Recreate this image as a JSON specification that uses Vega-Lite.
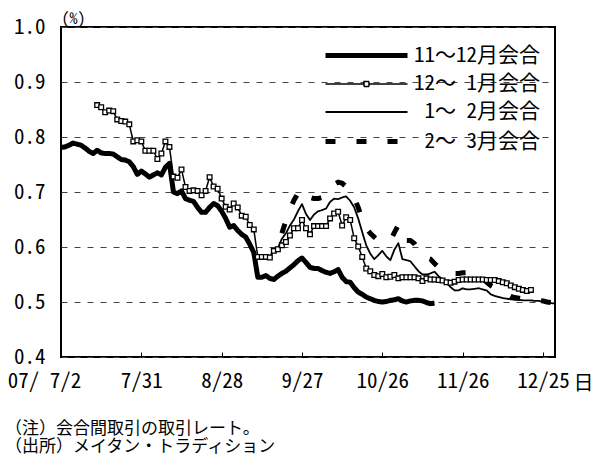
{
  "$schema": "https://vega.github.io/schema/vega-lite/v6.json",
  "width": 494,
  "height": 330,
  "autosize": {"type": "none"},
  "padding": {"left": 61, "top": 27, "right": 45, "bottom": 106},
  "background": "white",
  "config": {
    "view": {"stroke": "black", "strokeWidth": 2},
    "font": "Noto Sans Mono CJK JP",
    "axis": {"labelColor": "black", "titleColor": "black", "titleFontWeight": "normal"}
  },
  "title": {
    "text": ["（注）会合間取引の取引レート。", "（出所）メイタン・トラディション"],
    "orient": "bottom",
    "anchor": "start",
    "frame": "group",
    "dx": -56,
    "offset": 28,
    "font": "Noto Sans CJK JP",
    "fontSize": 17,
    "fontWeight": "normal",
    "lineHeight": 18,
    "baseline": "top",
    "color": "black"
  },
  "data": {"values": [
    {"s":"11～12月会合","i":0,"v":0.781},{"s":"11～12月会合","i":1,"v":0.782},{"s":"11～12月会合","i":2,"v":0.785},{"s":"11～12月会合","i":3,"v":0.789},{"s":"11～12月会合","i":4,"v":0.787},{"s":"11～12月会合","i":5,"v":0.785},{"s":"11～12月会合","i":6,"v":0.780},{"s":"11～12月会合","i":7,"v":0.774},{"s":"11～12月会合","i":8,"v":0.770},{"s":"11～12月会合","i":9,"v":0.776},
    {"s":"11～12月会合","i":10,"v":0.771},{"s":"11～12月会合","i":11,"v":0.770},{"s":"11～12月会合","i":12,"v":0.770},{"s":"11～12月会合","i":13,"v":0.769},{"s":"11～12月会合","i":14,"v":0.764},{"s":"11～12月会合","i":15,"v":0.759},{"s":"11～12月会合","i":16,"v":0.758},{"s":"11～12月会合","i":17,"v":0.755},{"s":"11～12月会合","i":18,"v":0.746},{"s":"11～12月会合","i":19,"v":0.732},
    {"s":"11～12月会合","i":20,"v":0.738},{"s":"11～12月会合","i":21,"v":0.733},{"s":"11～12月会合","i":22,"v":0.727},{"s":"11～12月会合","i":23,"v":0.731},{"s":"11～12月会合","i":24,"v":0.735},{"s":"11～12月会合","i":25,"v":0.731},{"s":"11～12月会合","i":26,"v":0.745},{"s":"11～12月会合","i":27,"v":0.752},{"s":"11～12月会合","i":28,"v":0.700},{"s":"11～12月会合","i":29,"v":0.697},
    {"s":"11～12月会合","i":30,"v":0.702},{"s":"11～12月会合","i":31,"v":0.688},{"s":"11～12月会合","i":32,"v":0.685},{"s":"11～12月会合","i":33,"v":0.683},{"s":"11～12月会合","i":34,"v":0.672},{"s":"11～12月会合","i":35,"v":0.663},{"s":"11～12月会合","i":36,"v":0.663},{"s":"11～12月会合","i":37,"v":0.672},{"s":"11～12月会合","i":38,"v":0.679},{"s":"11～12月会合","i":39,"v":0.675},
    {"s":"11～12月会合","i":40,"v":0.665},{"s":"11～12月会合","i":41,"v":0.652},{"s":"11～12月会合","i":42,"v":0.636},{"s":"11～12月会合","i":43,"v":0.639},{"s":"11～12月会合","i":44,"v":0.630},{"s":"11～12月会合","i":45,"v":0.623},{"s":"11～12月会合","i":46,"v":0.618},{"s":"11～12月会合","i":47,"v":0.605},{"s":"11～12月会合","i":48,"v":0.590},{"s":"11～12月会合","i":49,"v":0.545},
    {"s":"11～12月会合","i":50,"v":0.545},{"s":"11～12月会合","i":51,"v":0.548},{"s":"11～12月会合","i":52,"v":0.543},{"s":"11～12月会合","i":53,"v":0.541},{"s":"11～12月会合","i":54,"v":0.547},{"s":"11～12月会合","i":55,"v":0.552},{"s":"11～12月会合","i":56,"v":0.556},{"s":"11～12月会合","i":57,"v":0.562},{"s":"11～12月会合","i":58,"v":0.568},{"s":"11～12月会合","i":59,"v":0.575},
    {"s":"11～12月会合","i":60,"v":0.580},{"s":"11～12月会合","i":61,"v":0.572},{"s":"11～12月会合","i":62,"v":0.563},{"s":"11～12月会合","i":63,"v":0.561},{"s":"11～12月会合","i":64,"v":0.561},{"s":"11～12月会合","i":65,"v":0.557},{"s":"11～12月会合","i":66,"v":0.554},{"s":"11～12月会合","i":67,"v":0.552},{"s":"11～12月会合","i":68,"v":0.555},{"s":"11～12月会合","i":69,"v":0.559},
    {"s":"11～12月会合","i":70,"v":0.545},{"s":"11～12月会合","i":71,"v":0.537},{"s":"11～12月会合","i":72,"v":0.536},{"s":"11～12月会合","i":73,"v":0.526},{"s":"11～12月会合","i":74,"v":0.518},{"s":"11～12月会合","i":75,"v":0.514},{"s":"11～12月会合","i":76,"v":0.509},{"s":"11～12月会合","i":77,"v":0.506},{"s":"11～12月会合","i":78,"v":0.503},{"s":"11～12月会合","i":79,"v":0.501},
    {"s":"11～12月会合","i":80,"v":0.500},{"s":"11～12月会合","i":81,"v":0.501},{"s":"11～12月会合","i":82,"v":0.503},{"s":"11～12月会合","i":83,"v":0.504},{"s":"11～12月会合","i":84,"v":0.506},{"s":"11～12月会合","i":85,"v":0.502},{"s":"11～12月会合","i":86,"v":0.500},{"s":"11～12月会合","i":87,"v":0.502},{"s":"11～12月会合","i":88,"v":0.503},{"s":"11～12月会合","i":89,"v":0.503},
    {"s":"11～12月会合","i":90,"v":0.502},{"s":"11～12月会合","i":91,"v":0.499},{"s":"11～12月会合","i":92,"v":0.497},{"s":"11～12月会合","i":93,"v":0.498},
    {"s":"12～ 1月会合","i":9,"v":0.858},{"s":"12～ 1月会合","i":10,"v":0.854},{"s":"12～ 1月会合","i":11,"v":0.845},{"s":"12～ 1月会合","i":12,"v":0.848},{"s":"12～ 1月会合","i":13,"v":0.847},{"s":"12～ 1月会合","i":14,"v":0.832},{"s":"12～ 1月会合","i":15,"v":0.829},{"s":"12～ 1月会合","i":16,"v":0.828},{"s":"12～ 1月会合","i":17,"v":0.823},{"s":"12～ 1月会合","i":18,"v":0.792},{"s":"12～ 1月会合","i":19,"v":0.794},
    {"s":"12～ 1月会合","i":20,"v":0.792},{"s":"12～ 1月会合","i":21,"v":0.775},{"s":"12～ 1月会合","i":22,"v":0.775},{"s":"12～ 1月会合","i":23,"v":0.775},{"s":"12～ 1月会合","i":24,"v":0.760},{"s":"12～ 1月会合","i":25,"v":0.770},{"s":"12～ 1月会合","i":26,"v":0.792},{"s":"12～ 1月会合","i":27,"v":0.782},{"s":"12～ 1月会合","i":28,"v":0.728},{"s":"12～ 1月会合","i":29,"v":0.726},
    {"s":"12～ 1月会合","i":30,"v":0.741},{"s":"12～ 1月会合","i":31,"v":0.709},{"s":"12～ 1月会合","i":32,"v":0.702},{"s":"12～ 1月会合","i":33,"v":0.703},{"s":"12～ 1月会合","i":34,"v":0.702},{"s":"12～ 1月会合","i":35,"v":0.694},{"s":"12～ 1月会合","i":36,"v":0.702},{"s":"12～ 1月会合","i":37,"v":0.727},{"s":"12～ 1月会合","i":38,"v":0.710},{"s":"12～ 1月会合","i":39,"v":0.706},
    {"s":"12～ 1月会合","i":40,"v":0.688},{"s":"12～ 1月会合","i":41,"v":0.673},{"s":"12～ 1月会合","i":42,"v":0.668},{"s":"12～ 1月会合","i":43,"v":0.679},{"s":"12～ 1月会合","i":44,"v":0.672},{"s":"12～ 1月会合","i":45,"v":0.657},{"s":"12～ 1月会合","i":46,"v":0.655},{"s":"12～ 1月会合","i":47,"v":0.640},{"s":"12～ 1月会合","i":48,"v":0.632},{"s":"12～ 1月会合","i":49,"v":0.582},
    {"s":"12～ 1月会合","i":50,"v":0.582},{"s":"12～ 1月会合","i":51,"v":0.582},{"s":"12～ 1月会合","i":52,"v":0.581},{"s":"12～ 1月会合","i":53,"v":0.593},{"s":"12～ 1月会合","i":54,"v":0.596},{"s":"12～ 1月会合","i":55,"v":0.603},{"s":"12～ 1月会合","i":56,"v":0.609},{"s":"12～ 1月会合","i":57,"v":0.621},{"s":"12～ 1月会合","i":58,"v":0.634},{"s":"12～ 1月会合","i":59,"v":0.634},
    {"s":"12～ 1月会合","i":60,"v":0.649},{"s":"12～ 1月会合","i":61,"v":0.634},{"s":"12～ 1月会合","i":62,"v":0.623},{"s":"12～ 1月会合","i":63,"v":0.638},{"s":"12～ 1月会合","i":64,"v":0.638},{"s":"12～ 1月会合","i":65,"v":0.638},{"s":"12～ 1月会合","i":66,"v":0.638},{"s":"12～ 1月会合","i":67,"v":0.652},{"s":"12～ 1月会合","i":68,"v":0.661},{"s":"12～ 1月会合","i":69,"v":0.664},
    {"s":"12～ 1月会合","i":70,"v":0.639},{"s":"12～ 1月会合","i":71,"v":0.654},{"s":"12～ 1月会合","i":72,"v":0.649},{"s":"12～ 1月会合","i":73,"v":0.616},{"s":"12～ 1月会合","i":74,"v":0.601},{"s":"12～ 1月会合","i":75,"v":0.582},{"s":"12～ 1月会合","i":76,"v":0.561},{"s":"12～ 1月会合","i":77,"v":0.556},{"s":"12～ 1月会合","i":78,"v":0.549},{"s":"12～ 1月会合","i":79,"v":0.547},
    {"s":"12～ 1月会合","i":80,"v":0.551},{"s":"12～ 1月会合","i":81,"v":0.545},{"s":"12～ 1月会合","i":82,"v":0.546},{"s":"12～ 1月会合","i":83,"v":0.549},{"s":"12～ 1月会合","i":84,"v":0.543},{"s":"12～ 1月会合","i":85,"v":0.545},{"s":"12～ 1月会合","i":86,"v":0.545},{"s":"12～ 1月会合","i":87,"v":0.545},{"s":"12～ 1月会合","i":88,"v":0.545},{"s":"12～ 1月会合","i":89,"v":0.543},
    {"s":"12～ 1月会合","i":90,"v":0.538},{"s":"12～ 1月会合","i":91,"v":0.543},{"s":"12～ 1月会合","i":92,"v":0.541},{"s":"12～ 1月会合","i":93,"v":0.541},{"s":"12～ 1月会合","i":94,"v":0.540},{"s":"12～ 1月会合","i":95,"v":0.539},{"s":"12～ 1月会合","i":96,"v":0.536},{"s":"12～ 1月会合","i":97,"v":0.535},{"s":"12～ 1月会合","i":98,"v":0.537},{"s":"12～ 1月会合","i":99,"v":0.540},
    {"s":"12～ 1月会合","i":100,"v":0.541},{"s":"12～ 1月会合","i":101,"v":0.541},{"s":"12～ 1月会合","i":102,"v":0.541},{"s":"12～ 1月会合","i":103,"v":0.541},{"s":"12～ 1月会合","i":104,"v":0.541},{"s":"12～ 1月会合","i":105,"v":0.541},{"s":"12～ 1月会合","i":106,"v":0.540},{"s":"12～ 1月会合","i":107,"v":0.540},{"s":"12～ 1月会合","i":108,"v":0.540},{"s":"12～ 1月会合","i":109,"v":0.538},
    {"s":"12～ 1月会合","i":110,"v":0.536},{"s":"12～ 1月会合","i":111,"v":0.534},{"s":"12～ 1月会合","i":112,"v":0.530},{"s":"12～ 1月会合","i":113,"v":0.527},{"s":"12～ 1月会合","i":114,"v":0.524},{"s":"12～ 1月会合","i":115,"v":0.522},{"s":"12～ 1月会合","i":116,"v":0.520},{"s":"12～ 1月会合","i":117,"v":0.522},
    {"s":" 1～ 2月会合","i":49,"v":0.583},{"s":" 1～ 2月会合","i":50,"v":0.583},{"s":" 1～ 2月会合","i":51,"v":0.583},{"s":" 1～ 2月会合","i":52,"v":0.583},{"s":" 1～ 2月会合","i":53,"v":0.594},{"s":" 1～ 2月会合","i":54,"v":0.598},{"s":" 1～ 2月会合","i":55,"v":0.615},{"s":" 1～ 2月会合","i":56,"v":0.625},{"s":" 1～ 2月会合","i":57,"v":0.639},{"s":" 1～ 2月会合","i":58,"v":0.650},{"s":" 1～ 2月会合","i":59,"v":0.665},
    {"s":" 1～ 2月会合","i":60,"v":0.678},{"s":" 1～ 2月会合","i":61,"v":0.660},{"s":" 1～ 2月会合","i":62,"v":0.649},{"s":" 1～ 2月会合","i":63,"v":0.659},{"s":" 1～ 2月会合","i":64,"v":0.665},{"s":" 1～ 2月会合","i":65,"v":0.667},{"s":" 1～ 2月会合","i":66,"v":0.670},{"s":" 1～ 2月会合","i":67,"v":0.682},{"s":" 1～ 2月会合","i":68,"v":0.688},{"s":" 1～ 2月会合","i":69,"v":0.687},
    {"s":" 1～ 2月会合","i":70,"v":0.690},{"s":" 1～ 2月会合","i":71,"v":0.692},{"s":" 1～ 2月会合","i":72,"v":0.684},{"s":" 1～ 2月会合","i":73,"v":0.672},{"s":" 1～ 2月会合","i":74,"v":0.652},{"s":" 1～ 2月会合","i":75,"v":0.627},{"s":" 1～ 2月会合","i":76,"v":0.603},{"s":" 1～ 2月会合","i":77,"v":0.588},{"s":" 1～ 2月会合","i":78,"v":0.578},{"s":" 1～ 2月会合","i":79,"v":0.585},
    {"s":" 1～ 2月会合","i":80,"v":0.593},{"s":" 1～ 2月会合","i":81,"v":0.583},{"s":" 1～ 2月会合","i":82,"v":0.576},{"s":" 1～ 2月会合","i":83,"v":0.595},{"s":" 1～ 2月会合","i":84,"v":0.607},{"s":" 1～ 2月会合","i":85,"v":0.578},{"s":" 1～ 2月会合","i":86,"v":0.576},{"s":" 1～ 2月会合","i":87,"v":0.574},{"s":" 1～ 2月会合","i":88,"v":0.565},{"s":" 1～ 2月会合","i":89,"v":0.556},
    {"s":" 1～ 2月会合","i":90,"v":0.550},{"s":" 1～ 2月会合","i":91,"v":0.550},{"s":" 1～ 2月会合","i":92,"v":0.552},{"s":" 1～ 2月会合","i":93,"v":0.555},{"s":" 1～ 2月会合","i":94,"v":0.547},{"s":" 1～ 2月会合","i":95,"v":0.541},{"s":" 1～ 2月会合","i":96,"v":0.535},{"s":" 1～ 2月会合","i":97,"v":0.527},{"s":" 1～ 2月会合","i":98,"v":0.521},{"s":" 1～ 2月会合","i":99,"v":0.521},
    {"s":" 1～ 2月会合","i":100,"v":0.525},{"s":" 1～ 2月会合","i":101,"v":0.523},{"s":" 1～ 2月会合","i":102,"v":0.523},{"s":" 1～ 2月会合","i":103,"v":0.524},{"s":" 1～ 2月会合","i":104,"v":0.525},{"s":" 1～ 2月会合","i":105,"v":0.523},{"s":" 1～ 2月会合","i":106,"v":0.521},{"s":" 1～ 2月会合","i":107,"v":0.514},{"s":" 1～ 2月会合","i":108,"v":0.511},{"s":" 1～ 2月会合","i":109,"v":0.509},
    {"s":" 1～ 2月会合","i":110,"v":0.507},{"s":" 1～ 2月会合","i":111,"v":0.506},{"s":" 1～ 2月会合","i":112,"v":0.505},{"s":" 1～ 2月会合","i":113,"v":0.504},{"s":" 1～ 2月会合","i":114,"v":0.504},{"s":" 1～ 2月会合","i":115,"v":0.503},{"s":" 1～ 2月会合","i":116,"v":0.503},{"s":" 1～ 2月会合","i":117,"v":0.503},{"s":" 1～ 2月会合","i":118,"v":0.502},{"s":" 1～ 2月会合","i":119,"v":0.502},
    {"s":" 1～ 2月会合","i":120,"v":0.501},{"s":" 1～ 2月会合","i":121,"v":0.499},{"s":" 1～ 2月会合","i":122,"v":0.498},{"s":" 1～ 2月会合","i":123,"v":0.497},
    {"s":" 2～ 3月会合","i":55,"v":0.625},{"s":" 2～ 3月会合","i":56,"v":0.648},{"s":" 2～ 3月会合","i":57,"v":0.668},{"s":" 2～ 3月会合","i":58,"v":0.685},{"s":" 2～ 3月会合","i":59,"v":0.698},
    {"s":" 2～ 3月会合","i":60,"v":0.705},{"s":" 2～ 3月会合","i":61,"v":0.698},{"s":" 2～ 3月会合","i":62,"v":0.690},{"s":" 2～ 3月会合","i":63,"v":0.688},{"s":" 2～ 3月会合","i":64,"v":0.688},{"s":" 2～ 3月会合","i":65,"v":0.690},{"s":" 2～ 3月会合","i":66,"v":0.697},{"s":" 2～ 3月会合","i":67,"v":0.706},{"s":" 2～ 3月会合","i":68,"v":0.714},{"s":" 2～ 3月会合","i":69,"v":0.718},
    {"s":" 2～ 3月会合","i":70,"v":0.716},{"s":" 2～ 3月会合","i":71,"v":0.710},{"s":" 2～ 3月会合","i":72,"v":0.700},{"s":" 2～ 3月会合","i":73,"v":0.690},{"s":" 2～ 3月会合","i":74,"v":0.672},{"s":" 2～ 3月会合","i":75,"v":0.650},{"s":" 2～ 3月会合","i":76,"v":0.634},{"s":" 2～ 3月会合","i":77,"v":0.625},{"s":" 2～ 3月会合","i":78,"v":0.618},{"s":" 2～ 3月会合","i":79,"v":0.612},
    {"s":" 2～ 3月会合","i":80,"v":0.612},{"s":" 2～ 3月会合","i":81,"v":0.614},{"s":" 2～ 3月会合","i":82,"v":0.612},{"s":" 2～ 3月会合","i":83,"v":0.626},{"s":" 2～ 3月会合","i":84,"v":0.640},{"s":" 2～ 3月会合","i":85,"v":0.616},{"s":" 2～ 3月会合","i":86,"v":0.612},{"s":" 2～ 3月会合","i":87,"v":0.612},{"s":" 2～ 3月会合","i":88,"v":0.606},{"s":" 2～ 3月会合","i":89,"v":0.595},
    {"s":" 2～ 3月会合","i":90,"v":0.585},{"s":" 2～ 3月会合","i":91,"v":0.580},{"s":" 2～ 3月会合","i":92,"v":0.578},{"s":" 2～ 3月会合","i":93,"v":0.570},{"s":" 2～ 3月会合","i":94,"v":0.563},{"s":" 2～ 3月会合","i":95,"v":0.557},{"s":" 2～ 3月会合","i":96,"v":0.555},{"s":" 2～ 3月会合","i":97,"v":0.553},{"s":" 2～ 3月会合","i":98,"v":0.552},{"s":" 2～ 3月会合","i":99,"v":0.552},
    {"s":" 2～ 3月会合","i":100,"v":0.553},{"s":" 2～ 3月会合","i":101,"v":0.553},{"s":" 2～ 3月会合","i":102,"v":0.552},{"s":" 2～ 3月会合","i":103,"v":0.552},{"s":" 2～ 3月会合","i":104,"v":0.549},{"s":" 2～ 3月会合","i":105,"v":0.543},{"s":" 2～ 3月会合","i":106,"v":0.536},{"s":" 2～ 3月会合","i":107,"v":0.530},{"s":" 2～ 3月会合","i":108,"v":0.526},{"s":" 2～ 3月会合","i":109,"v":0.524},
    {"s":" 2～ 3月会合","i":110,"v":0.519},{"s":" 2～ 3月会合","i":111,"v":0.514},{"s":" 2～ 3月会合","i":112,"v":0.510},{"s":" 2～ 3月会合","i":113,"v":0.508},{"s":" 2～ 3月会合","i":114,"v":0.507},{"s":" 2～ 3月会合","i":115,"v":0.506},{"s":" 2～ 3月会合","i":116,"v":0.505},{"s":" 2～ 3月会合","i":117,"v":0.505},{"s":" 2～ 3月会合","i":118,"v":0.504},{"s":" 2～ 3月会合","i":119,"v":0.503},
    {"s":" 2～ 3月会合","i":120,"v":0.502},{"s":" 2～ 3月会合","i":121,"v":0.500},{"s":" 2～ 3月会合","i":122,"v":0.499},{"s":" 2～ 3月会合","i":123,"v":0.498}
  ]},
  "encoding": {
    "x": {
      "field": "i", "type": "quantitative",
      "scale": {"domain": [0, 123], "nice": false, "zero": false},
      "axis": {
        "values": [0, 20, 40, 60, 80, 100, 120],
        "labelExpr": "datum.value == 0 ? '07/ 7/2' : datum.value == 20 ? '7/31' : datum.value == 40 ? '8/28' : datum.value == 60 ? '9/27' : datum.value == 80 ? '10/26' : datum.value == 100 ? '11/26' : '12/25'",
        "labelOffset": {"condition": {"test": "datum.value == 0", "value": -17}, "value": 0},
        "labelFontSize": 21,
        "labelPadding": 18,
        "labelFlush": false,
        "labelOverlap": false,
        "domain": false,
        "grid": false,
        "ticks": true,
        "tickSize": -5,
        "tickColor": "black",
        "tickWidth": 1,
        "title": "日",
        "titleFont": "Noto Sans CJK JP",
        "titleFontSize": 20,
        "titleX": 522,
        "titleY": 16,
        "titleAlign": "center",
        "titleBaseline": "top"
      }
    },
    "y": {
      "field": "v", "type": "quantitative",
      "scale": {"domain": [0.4, 1.0], "nice": false, "zero": false},
      "axis": {
        "values": [0.4, 0.5, 0.6, 0.7, 0.8, 0.9, 1.0],
        "format": ".1f",
        "labelFontSize": 21,
        "labelPadding": 16,
        "domain": false,
        "ticks": false,
        "grid": true,
        "gridColor": "#444",
        "gridDash": [6, 7],
        "gridWidth": 1,
        "title": "(%)",
        "titleFontSize": 16,
        "titleAngle": 0,
        "titleX": 0,
        "titleY": -1,
        "titleAlign": "left",
        "titleBaseline": "bottom"
      }
    }
  },
  "layer": [
    {
      "mark": {"type": "line", "color": "black", "strokeCap": "butt", "strokeJoin": "round"},
      "encoding": {
        "detail": {"field": "s"},
        "strokeWidth": {
          "field": "s", "type": "nominal",
          "scale": {"type": "ordinal", "domain": ["11～12月会合", "12～ 1月会合", " 1～ 2月会合", " 2～ 3月会合"], "range": [5, 1.5, 1.8, 5]},
          "legend": {
            "orient": "none", "legendX": 262, "legendY": 16, "title": null, "padding": 0,
            "symbolType": "M-1,0H7.2", "symbolSize": 400, "symbolStrokeColor": "black",
            "labelAlign": "right", "labelOffset": 192, "labelLimit": 300,
            "labelFontSize": 21, "labelColor": "black", "rowPadding": 7,
            "encode": {"symbols": {"update": {
              "shape": {"signal": "datum.value === '12～ 1月会合' ? 'M-1,0H2.85M3.35,0H7.2M2.85,-0.25H3.35V0.25H2.85Z' : 'M-1,0H7.2'"},
              "fill": {"value": "white"},
              "stroke": {"value": "black"}
            }}}
          }
        },
        "strokeDash": {
          "field": "s", "type": "nominal",
          "scale": {"type": "ordinal", "domain": ["11～12月会合", "12～ 1月会合", " 1～ 2月会合", " 2～ 3月会合"], "range": [[1, 0], [1, 0], [1, 0], [10, 21]]},
          "legend": {
            "orient": "none", "legendX": 262, "legendY": 16, "title": null, "padding": 0,
            "symbolType": "M-1,0H7.2", "symbolSize": 400, "symbolStrokeColor": "black",
            "labelAlign": "right", "labelOffset": 192, "labelLimit": 300,
            "labelFontSize": 21, "labelColor": "black", "rowPadding": 7
          }
        }
      }
    },
    {
      "transform": [{"filter": "datum.s === '12～ 1月会合'"}],
      "mark": {"type": "point", "shape": "square", "size": 22, "filled": false, "fill": "white", "stroke": "black", "strokeWidth": 1.3, "opacity": 1}
    }
  ]
}
